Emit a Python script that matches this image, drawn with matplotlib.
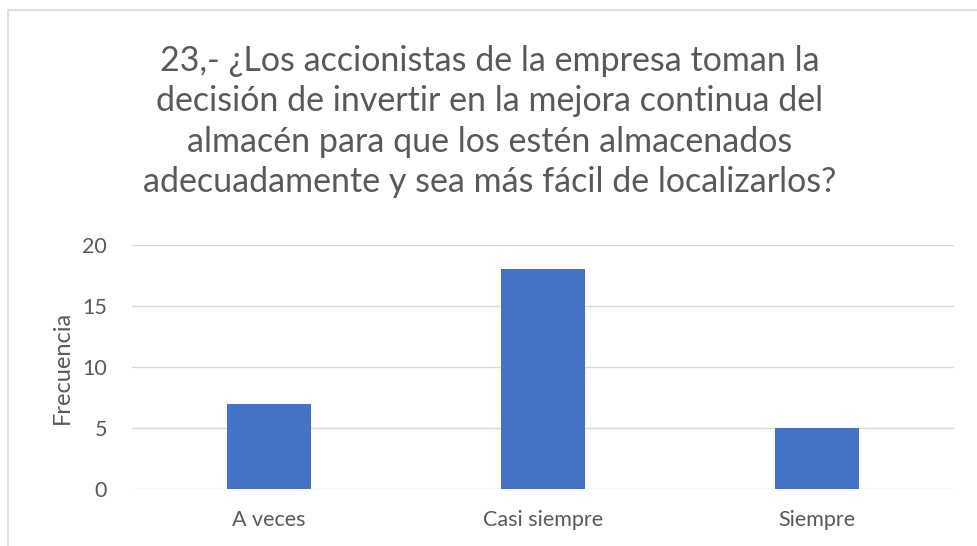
import matplotlib
matplotlib.use('Agg')
import matplotlib.pyplot as plt
from matplotlib.patches import Rectangle

# datos
categorias = ['A veces', 'Casi siempre', 'Siempre']
frecuencia = [7, 18, 5]
yticks = [0, 5, 10, 15, 20]
titulo = ('23,- ¿Los accionistas de la empresa toman la\n'
          'decisión de invertir en la mejora continua del\n'
          'almacén para que los estén almacenados\n'
          'adecuadamente y sea más fácil de localizarlos?')

plt.rcParams['font.family'] = ['Lato', 'DejaVu Sans']

fig = plt.figure(figsize=(9.77, 5.46), dpi=100)
fig.patch.set_facecolor('white')

# marco del grafico
fig.patches.append(Rectangle((8/977, -0.05), 1.1, 1 - 10/546 + 0.05, transform=fig.transFigure,
                             fill=False, edgecolor='#d9d9d9', linewidth=1.2))

ax = fig.add_axes([132/977, 1 - 489/546, 822/977, 244/546])
x = range(len(categorias))
ax.bar(x, frecuencia, width=0.31, color='#4472c4', zorder=3)
ax.set_xlim(-0.5, len(categorias) - 0.5)
ax.set_ylim(0, 20)
ax.set_yticks(yticks)
ax.set_xticks(list(x))
ax.set_xticklabels(categorias)
ax.grid(axis='y', color='#d9d9d9', linewidth=1, zorder=0)
for s in ax.spines.values():
    s.set_visible(False)
ax.tick_params(axis='both', length=0, labelsize=15.5, colors='#595959')
ax.tick_params(axis='x', pad=15)
ax.tick_params(axis='y', pad=18)
ax.set_ylabel('Frecuencia', fontsize=17, color='#595959', labelpad=7)

fig.text(490/977, 1 - 45/546, titulo, ha='center', va='top', fontsize=24.5,
         color='#595959', linespacing=1.32)

fig.savefig('out.png', dpi=100)
